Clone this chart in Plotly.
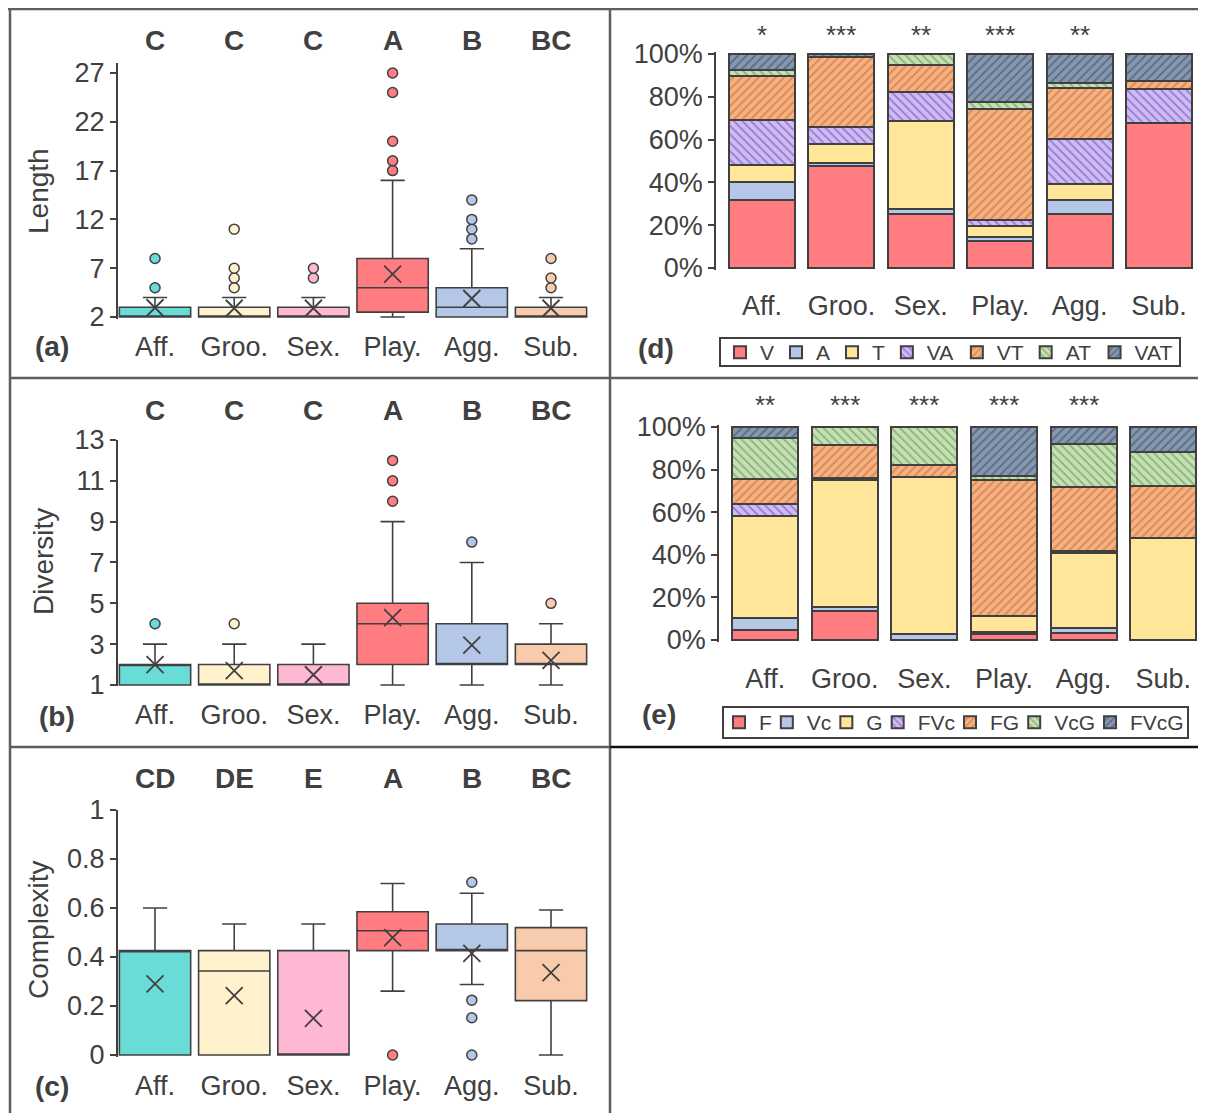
import plotly.graph_objects as go

# ---------------- data ----------------
categories = ['Aff.', 'Groo.', 'Sex.', 'Play.', 'Agg.', 'Sub.']
box_colors = ['#6ADCD8', '#FFF2CC', '#FFB8D4', '#FF7C80', '#B4C7E7', '#F8CBAD']

# (a) Length
len_q1 = [2, 2, 2, 2.5, 2, 2]
len_median = [2, 2, 2, 5, 3, 2]
len_q3 = [3, 3, 3, 8, 5, 3]
len_low = [2, 2, 2, 2, 2, 2]
len_high = [4, 4, 4, 16, 9, 4]
len_mean = [2.95, 2.9, 2.9, 6.4, 3.9, 2.9]
len_outliers = [[5, 8], [5, 6, 7, 11], [6, 7], [17, 18, 20, 25, 27], [10, 11, 12, 14], [5, 6, 8]]
len_letters = ['C', 'C', 'C', 'A', 'B', 'BC']
len_ticks = [2, 7, 12, 17, 22, 27]

# (b) Diversity
div_q1 = [1, 1, 1, 2, 2, 2]
div_median = [2, 1, 1, 4, 2, 2]
div_q3 = [2, 2, 2, 5, 4, 3]
div_low = [1, 1, 1, 1, 1, 1]
div_high = [3, 3, 3, 9, 7, 4]
div_mean = [2.0, 1.7, 1.5, 4.3, 2.95, 2.2]
div_outliers = [[4], [4], [], [10, 11, 12], [8], [5]]
div_letters = ['C', 'C', 'C', 'A', 'B', 'BC']
div_ticks = [1, 3, 5, 7, 9, 11, 13]

# (c) Complexity
com_q1 = [0, 0, 0, 0.426, 0.426, 0.222]
com_median = [0.426, 0.343, 0, 0.507, 0.426, 0.426]
com_q3 = [0.426, 0.426, 0.426, 0.585, 0.535, 0.52]
com_low = [0, 0, 0, 0.261, 0.288, 0]
com_high = [0.6, 0.535, 0.535, 0.70, 0.66, 0.592]
com_mean = [0.29, 0.242, 0.15, 0.479, 0.415, 0.336]
com_outliers = [[], [], [], [0], [0.705, 0.224, 0.152, 0], []]
com_letters = ['CD', 'DE', 'E', 'A', 'B', 'BC']
com_ticks = [0, 0.2, 0.4, 0.6, 0.8, 1]
com_ticktext = ['0', '0.2', '0.4', '0.6', '0.8', '1']

# (d) modality composition (%)
d_series = ['V', 'A', 'T', 'VA', 'VT', 'AT', 'VAT']
d_V = [32.0, 47.8, 25.1, 12.7, 25.1, 67.8]
d_A = [8.0, 1.3, 2.5, 1.7, 6.7, 0]
d_T = [8.0, 8.7, 41.1, 5.3, 7.3, 0]
d_VA = [21.0, 8.1, 13.5, 2.5, 21.4, 15.9]
d_VT = [20.5, 32.5, 12.7, 52.2, 23.7, 3.9]
d_AT = [3.0, 0, 5.1, 3.1, 2.2, 0]
d_VAT = [7.5, 1.6, 0, 22.5, 13.6, 12.4]
d_stars = ['*', '***', '**', '***', '**', '']

# (e) component composition (%)
e_series = ['F', 'Vc', 'G', 'FVc', 'FG', 'VcG', 'FVcG']
e_F = [4.7, 13.6, 0, 2.7, 3.4, 0]
e_Vc = [5.8, 2.0, 2.7, 1.2, 2.4, 0]
e_G = [47.7, 59.4, 74.0, 7.4, 35.2, 48.0]
e_FVc = [5.8, 1.2, 0, 0, 0.8, 0]
e_FG = [11.7, 15.3, 5.5, 63.7, 30.0, 24.3]
e_VcG = [19.3, 8.5, 17.8, 2.0, 20.4, 16.0]
e_FVcG = [5.0, 0, 0, 23.0, 7.8, 11.7]
e_stars = ['**', '***', '***', '***', '***', '']
pct_ticks = [0, 20, 40, 60, 80, 100]
pct_text = ['0%', '20%', '40%', '60%', '80%', '100%']

# ---------------- styles ----------------
# the page has an 8px body margin, so the figure is 8px smaller and
# page coordinates are shifted by 8px when converted to paper coordinates
OFF = 8
W, H = 1206 - OFF, 1113 - OFF
DARK = '#404040'
FONT = 'Liberation Sans, Arial, sans-serif'
LEG_FONT = 21
stack_styles = [
    dict(bg='#FF7C80', fg=None, shape=''),
    dict(bg='#B4C7E7', fg=None, shape=''),
    dict(bg='#FFE699', fg=None, shape=''),
    dict(bg='#CDBDF6', fg='#7030A0', shape='\\'),
    dict(bg='#F4B183', fg='#C55A11', shape='/'),
    dict(bg='#C5E0B4', fg='#548235', shape='\\'),
    dict(bg='#8497B0', fg='#2F3B4C', shape='/'),
]
# approximate Arial advance widths (em) used to tighten legend entries
CHAR_W = {'V': 0.667, 'A': 0.667, 'T': 0.611, 'F': 0.611, 'G': 0.778, 'c': 0.5}


def px(x):
    return (x - OFF) / W


def py(y):
    return 1 - (y - OFF) / H


def text_w(s):
    return sum(CHAR_W.get(ch, 0.6) for ch in s) * LEG_FONT


fig = go.Figure()


def add_box_panel(n, q1, med, q3, lo, hi, mean, outliers):
    xa, ya = 'x%d' % n, 'y%d' % n
    for i, c in enumerate(categories):
        fig.add_trace(go.Box(
            x=[c], q1=[q1[i]], median=[med[i]], q3=[q3[i]],
            lowerfence=[lo[i]], upperfence=[hi[i]], orientation='v',
            fillcolor=box_colors[i], line=dict(color=DARK, width=1.6),
            width=0.9, whiskerwidth=0.34, boxpoints=False,
            xaxis=xa, yaxis=ya, showlegend=False, hoverinfo='skip'))
    ox, oy, oc = [], [], []
    for i, c in enumerate(categories):
        for v in outliers[i]:
            ox.append(c)
            oy.append(v)
            oc.append(box_colors[i])
    fig.add_trace(go.Scatter(
        x=ox, y=oy, mode='markers', cliponaxis=False,
        marker=dict(symbol='circle', size=10, color=oc, line=dict(color=DARK, width=1.5)),
        xaxis=xa, yaxis=ya, showlegend=False, hoverinfo='skip'))
    fig.add_trace(go.Scatter(
        x=categories, y=mean, mode='markers', cliponaxis=False,
        marker=dict(symbol='x-thin', size=17, line=dict(color=DARK, width=1.8)),
        xaxis=xa, yaxis=ya, showlegend=False, hoverinfo='skip'))


add_box_panel(1, len_q1, len_median, len_q3, len_low, len_high, len_mean, len_outliers)
add_box_panel(2, div_q1, div_median, div_q3, div_low, div_high, div_mean, div_outliers)
add_box_panel(3, com_q1, com_median, com_q3, com_low, com_high, com_mean, com_outliers)


def add_stack_panel(n, names, series, legend, tighten):
    last = len(names) - 1
    for k, (name, vals, st) in enumerate(zip(names, series, stack_styles)):
        marker = dict(color=st['bg'], line=dict(color=DARK, width=2))
        if st['shape']:
            marker['pattern'] = dict(shape=st['shape'], bgcolor=st['bg'], fgcolor=st['fg'],
                                     size=6, solidity=0.3, fillmode='overlay')
        lw = text_w(name) + 4 if k == last else max(text_w(name) - tighten, 2)
        fig.add_trace(go.Bar(
            x=categories, y=vals, name=name, marker=marker, legendwidth=lw,
            xaxis='x%d' % n, yaxis='y%d' % n, legend=legend, hoverinfo='skip'))


add_stack_panel(4, d_series, [d_V, d_A, d_T, d_VA, d_VT, d_AT, d_VAT], 'legend', 3)
add_stack_panel(5, e_series, [e_F, e_Vc, e_G, e_FVc, e_FG, e_VcG, e_FVcG], 'legend2', 10)

# ---------------- axes ----------------
def xcat(domain, rng, standoff):
    return dict(domain=domain, type='category', categoryorder='array', categoryarray=categories,
                range=rng, showline=False, ticks='', showgrid=False, zeroline=False,
                tickfont=dict(size=27, color=DARK, family=FONT), ticklabelstandoff=standoff,
                fixedrange=True)


def yval(domain, rng, tickvals, ticktext=None):
    d = dict(domain=domain, range=rng, tickvals=tickvals, showline=True, linecolor=DARK,
             linewidth=1.5, ticks='outside', ticklen=6, tickwidth=1.5, tickcolor=DARK,
             showgrid=False, zeroline=False, tickfont=dict(size=27, color=DARK, family=FONT),
             fixedrange=True)
    if ticktext is not None:
        d['ticktext'] = ticktext
    return d


box_xdom = [px(117.8), px(590.6)]
fig.update_layout(
    xaxis=dict(xcat(box_xdom, [-0.47, 5.5], 9), anchor='y'),
    yaxis=dict(yval([py(318.5), py(63.2)], [1.85, 28], len_ticks), anchor='x'),
    xaxis2=dict(xcat(box_xdom, [-0.47, 5.5], 10), anchor='y2'),
    yaxis2=dict(yval([py(686.4), py(440)], [0.93, 13], div_ticks), anchor='x2'),
    xaxis3=dict(xcat(box_xdom, [-0.47, 5.5], 10), anchor='y3'),
    yaxis3=dict(yval([py(1056.5), py(810)], [-0.006, 1], com_ticks, com_ticktext), anchor='x3'),
    xaxis4=dict(xcat([px(716), px(1198.7)], [-0.58, 5.5], 17), anchor='y4'),
    yaxis4=dict(yval([py(269.7), py(52.3)], [-0.8, 100.8], pct_ticks, pct_text), anchor='x4'),
    xaxis5=dict(xcat([px(719), px(1203)], [-0.58, 5.5], 18), anchor='y5'),
    yaxis5=dict(yval([py(641.7), py(425.3)], [-0.8, 100.8], pct_ticks, pct_text), anchor='x5'),
)

# ---------------- annotations ----------------
ann = []


def txt(x, y, s, size, bold=False, angle=0, xref='paper'):
    ann.append(dict(x=x, y=y, xref=xref, yref='paper', text=('<b>%s</b>' % s) if bold else s,
                    showarrow=False, textangle=angle, xanchor='center', yanchor='middle',
                    font=dict(size=size, color=DARK, family=FONT)))


for letters, n, yy in [(len_letters, 1, 40), (div_letters, 2, 410), (com_letters, 3, 778)]:
    for c, l in zip(categories, letters):
        txt(c, py(yy), l, 28, bold=True, xref='x%d' % n)
for stars, n, yy in [(d_stars, 4, 35), (e_stars, 5, 405)]:
    for c, s in zip(categories, stars):
        if s:
            txt(c, py(yy), s, 26, xref='x%d' % n)

txt(px(39), py(191), 'Length', 28, angle=-90)
txt(px(43), py(562), 'Diversity', 28, angle=-90)
txt(px(38), py(930), 'Complexity', 28, angle=-90)
txt(px(52), py(346), '(a)', 28, bold=True)
txt(px(57), py(716), '(b)', 28, bold=True)
txt(px(52), py(1086), '(c)', 28, bold=True)
txt(px(656), py(348), '(d)', 28, bold=True)
txt(px(659), py(715), '(e)', 28, bold=True)

# ---------------- panel frame lines and legend boxes ----------------
GRAY = '#5E5E5E'
shapes = []


def hline(y, x0, x1, color=GRAY, w=2.5):
    shapes.append(dict(type='line', xref='paper', yref='paper', x0=px(x0), x1=px(x1),
                       y0=py(y), y1=py(y), line=dict(color=color, width=w)))


def vline(x, y0, y1, color=GRAY, w=2.5):
    shapes.append(dict(type='line', xref='paper', yref='paper', x0=px(x), x1=px(x),
                       y0=py(y0), y1=py(y1), line=dict(color=color, width=w)))


def rect(x0, y0, x1, y1):
    shapes.append(dict(type='rect', xref='paper', yref='paper', x0=px(x0), x1=px(x1),
                       y0=py(y1), y1=py(y0), line=dict(color=DARK, width=2),
                       fillcolor='rgba(0,0,0,0)'))


hline(9, 8, 1206)
vline(10, 9, 1113)
vline(610, 9, 1113)
hline(378, 10, 1206)
hline(747, 10, 610)
hline(747, 610, 1206, color='#111111', w=2.5)
rect(720, 338, 1180, 366)
rect(723, 707, 1188, 738)

legend_common = dict(orientation='h', xanchor='left', yanchor='top',
                     borderwidth=0, bgcolor='rgba(0,0,0,0)', itemwidth=30, traceorder='normal',
                     font=dict(size=LEG_FONT, color=DARK, family=FONT), itemclick=False,
                     itemdoubleclick=False)

fig.update_layout(
    width=W, height=H, margin=dict(l=0, r=0, t=0, b=0, autoexpand=False),
    paper_bgcolor='white', plot_bgcolor='rgba(0,0,0,0)',
    barmode='stack', bargap=0.17, boxmode='overlay',
    font=dict(family=FONT, color=DARK),
    annotations=ann, shapes=shapes,
    legend=dict(legend_common, x=px(720), y=py(332)),
    legend2=dict(legend_common, x=px(719), y=py(702)),
)

fig.write_html('out.html')
